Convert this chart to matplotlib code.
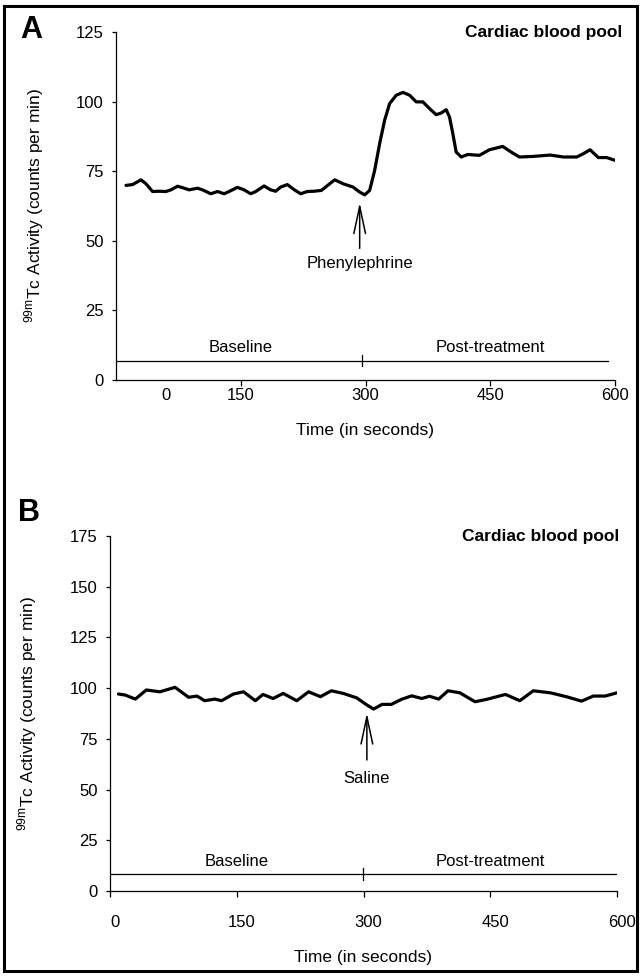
import matplotlib
matplotlib.use("Agg")
import matplotlib.pyplot as plt
import matplotlib.transforms as mtransforms
from matplotlib.patches import Rectangle

plt.rcParams['font.family'] = ['Liberation Sans', 'DejaVu Sans']

# Panel A: phenylephrine injection
time_a = [12, 20, 30, 36, 44, 52, 60, 66, 74, 82, 88, 98, 104, 114, 122, 130,
          136, 146, 154, 162, 168, 178, 186, 192, 198, 206, 214, 222, 230, 238,
          247, 257, 263, 273, 285, 293, 299, 305, 311, 317, 323, 329, 337, 345,
          353, 361, 369, 377, 385, 391, 397, 401, 405, 409, 415, 423, 437, 449,
          465, 475, 485, 501, 522, 538, 554, 562, 570, 580, 590, 600]
activity_a = [69.9, 70.2, 71.9, 70.5, 67.7, 67.8, 67.7, 68.3, 69.6, 68.9, 68.3,
              68.9, 68.3, 66.9, 67.7, 66.9, 67.7, 69.2, 68.3, 66.9, 67.7, 69.7,
              68.3, 67.8, 69.3, 70.2, 68.4, 66.9, 67.7, 67.8, 68.1, 70.5, 71.9,
              70.5, 69.3, 67.5, 66.5, 68.1, 75.3, 84.9, 93.3, 99.3, 102.3, 103.3,
              102.3, 99.9, 99.9, 97.5, 95.3, 95.9, 97.1, 94.5, 88.5, 81.9, 80.1,
              81.0, 80.7, 82.7, 83.9, 81.9, 80.1, 80.3, 80.8, 80.1, 80.1, 81.3,
              82.7, 79.9, 79.9, 78.9]

# Panel B: saline injection
time_b = [10, 18, 30, 43, 59, 77, 93, 103, 112, 124, 132, 146, 158, 172, 181,
          193, 205, 221, 235, 249, 262, 276, 292, 304, 312, 322, 333, 345, 357,
          369, 378, 389, 400, 414, 432, 446, 468, 485, 501, 521, 540, 558, 572,
          586, 600]
activity_b = [97.1, 96.6, 94.6, 99.1, 98.2, 100.4, 95.5, 96.1, 93.8, 94.6, 93.8,
              97.1, 98.2, 93.8, 96.9, 94.9, 97.4, 93.8, 98.2, 95.8, 98.7, 97.4,
              95.2, 91.7, 89.7, 92.0, 92.0, 94.5, 96.2, 94.9, 96.0, 94.6, 98.7,
              97.7, 93.3, 94.5, 96.9, 93.8, 98.7, 97.7, 95.8, 93.6, 96.1, 96.1,
              97.7]

xticks_a = [60, 150, 300, 450, 600]
xticklabels_a = ['0', '150', '300', '450', '600']
xticks_b = [0, 150, 300, 450, 600]
yticks_a = [0, 25, 50, 75, 100, 125]
yticks_b = [0, 25, 50, 75, 100, 125, 150, 175]

ylabel = r'$^{\mathregular{99m}}$Tc Activity (counts per min)'
FS = 12

fig = plt.figure(figsize=(6.42, 9.77), dpi=100)
fig.patches.append(Rectangle((0.006, 0.006), 0.986, 0.988, transform=fig.transFigure,
                             fill=False, lw=2.2, ec='black'))

ax_a = fig.add_axes([116 / 642, 1 - 380 / 977, 499 / 642, 348 / 977])
ax_b = fig.add_axes([110 / 642, 1 - 891 / 977, 507 / 642, 355 / 977])


def style_axes(ax, ymax, yticks, xpad):
    ax.set_xlim(0, 600)
    ax.set_ylim(0, ymax)
    ax.set_yticks(yticks)
    for side in ('top', 'right'):
        ax.spines[side].set_visible(False)
    for side in ('left', 'bottom'):
        ax.spines[side].set_linewidth(0.9)
    ax.tick_params(axis='y', direction='out', length=3, width=0.9, pad=6, labelsize=FS)
    ax.tick_params(axis='x', direction='out', length=4, width=0.9, pad=xpad, labelsize=FS)
    ax.set_xlabel('Time (in seconds)', fontsize=FS + 0.5)
    ax.set_ylabel(ylabel, fontsize=FS + 0.5)
    ax.yaxis.set_label_coords(-0.14, 0.5)


# ---- Panel A ----
style_axes(ax_a, 125, yticks_a, 2)
ax_a.set_xticks(xticks_a, labels=xticklabels_a)
ax_a.xaxis.get_major_ticks()[0].tick1line.set_visible(False)
ax_a.xaxis.set_label_coords(0.5, -0.125)
ax_a.plot(time_a, activity_a, color='black', lw=2.3, solid_joinstyle='round',
          solid_capstyle='round')
ax_a.plot([0, 592], [7, 7], color='black', lw=0.9)
ax_a.plot([296, 296], [5, 9], color='black', lw=0.9)
ax_a.text(150, 9.0, 'Baseline', ha='center', va='bottom', fontsize=FS)
ax_a.text(450, 9.0, 'Post-treatment', ha='center', va='bottom', fontsize=FS)
ax_a.annotate('', xy=(293, 63.7), xytext=(293, 47.3),
              arrowprops=dict(arrowstyle='->,head_length=1.4,head_width=0.3',
                              mutation_scale=14, lw=1.1, color='black',
                              shrinkA=0, shrinkB=0))
ax_a.text(293, 41.9, 'Phenylephrine', ha='center', va='center', fontsize=FS)
ax_a.text(1.015, 1.0, 'Cardiac blood pool', transform=ax_a.transAxes, ha='right',
          va='center', fontsize=FS + 0.5, fontweight='bold')
fig.text(31 / 642, 1 - 30 / 977, 'A', ha='center', va='center', fontsize=22,
         fontweight='bold')

# ---- Panel B ----
style_axes(ax_b, 175, yticks_b, 13)
ax_b.set_xticks(xticks_b)
shift = mtransforms.ScaledTranslation(0.05, 0, fig.dpi_scale_trans)
for lbl in ax_b.get_xticklabels():
    lbl.set_transform(lbl.get_transform() + shift)
ax_b.xaxis.set_label_coords(0.5, -0.165)
ax_b.plot(time_b, activity_b, color='black', lw=2.3, solid_joinstyle='round',
          solid_capstyle='round')
ax_b.plot([0, 600], [8.5, 8.5], color='black', lw=0.9)
ax_b.plot([299, 299], [5.5, 11.5], color='black', lw=0.9)
ax_b.text(150, 11.0, 'Baseline', ha='center', va='bottom', fontsize=FS)
ax_b.text(450, 11.0, 'Post-treatment', ha='center', va='bottom', fontsize=FS)
ax_b.annotate('', xy=(304, 87.7), xytext=(304, 64.6),
              arrowprops=dict(arrowstyle='->,head_length=1.4,head_width=0.3',
                              mutation_scale=14, lw=1.1, color='black',
                              shrinkA=0, shrinkB=0))
ax_b.text(304, 55.5, 'Saline', ha='center', va='center', fontsize=FS)
ax_b.text(1.005, 1.0, 'Cardiac blood pool', transform=ax_b.transAxes, ha='right',
          va='center', fontsize=FS + 0.5, fontweight='bold')
fig.text(29 / 642, 1 - 513 / 977, 'B', ha='center', va='center', fontsize=22,
         fontweight='bold')

fig.savefig('out.png', dpi=100)
